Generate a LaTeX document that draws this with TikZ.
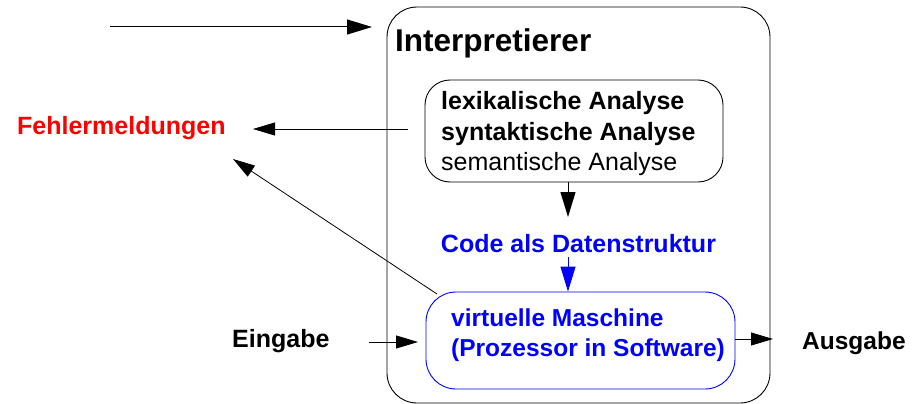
\documentclass[tikz,border=0pt]{standalone}
\usepackage{fontspec}
\setmainfont{Liberation Sans}
\usetikzlibrary{arrows.meta}
\definecolor{myblue}{RGB}{0,0,255}
\definecolor{myred}{RGB}{255,0,0}
\begin{document}
\begin{tikzpicture}[x=1pt,y=-1pt,
  box/.style={draw,rounded corners=#1,inner sep=0pt,line width=0.9pt},
  txt/.style={inner sep=0pt,anchor=base west,font=\fontsize{25}{30}\selectfont},
  arr/.style={-{Triangle[length=25pt,width=15pt]},line width=1pt},
  thin arr/.style={-{Triangle[length=22pt,width=13pt]},line width=0.8pt}]
\useasboundingbox (0,0) rectangle (922,404);
% outer box
\node[box=30pt,minimum width=383pt,minimum height=396pt] (outer) at (578.5,205) {};
\node[txt,font=\fontsize{31.5}{36}\selectfont\bfseries] (title) at (395,52) {Interpretierer};
% analysis box
\node[box=25pt,minimum width=298pt,minimum height=102pt] (ana) at (574,131) {};
\node[txt,font=\fontsize{25}{30}\selectfont\bfseries] (l1) at (441,110) {lexikalische Analyse};
\node[txt,font=\fontsize{25}{30}\selectfont\bfseries] (l2) at (441,140) {syntaktische Analyse};
\node[txt] (l3) at (441,170) {semantische Analyse};
% code
\node[inner sep=0pt,anchor=base,text=myblue,font=\fontsize{25}{30}\selectfont\bfseries] (code) at (578.5,252) {Code als Datenstruktur};
% VM box
\node[box=30pt,draw=myblue,minimum width=309pt,minimum height=97pt] (vm) at (580.5,340.5) {};
\node[txt,text=myblue,font=\fontsize{24.5}{30}\selectfont\bfseries] (v1) at (451,326) {virtuelle Maschine};
\node[txt,text=myblue,font=\fontsize{24.5}{30}\selectfont\bfseries] (v2) at (451,356) {(Prozessor in Software)};
% outside labels
\node[txt,text=myred,font=\fontsize{25}{30}\selectfont\bfseries] (fehler) at (17,135) {Fehlermeldungen};
\node[txt,font=\fontsize{25}{30}\selectfont\bfseries] (ein) at (232,347) {Eingabe};
\node[txt,font=\fontsize{24.5}{30}\selectfont\bfseries] (aus) at (802,349) {Ausgabe};
% coordinates
\coordinate (topstart) at (110,27);
\coordinate (topend) at (372,27);
\coordinate (fa) at (408,129);
\coordinate (fb) at (253,129);
\coordinate (da) at (437,294);
\coordinate (db) at (233,159);
\coordinate (ea) at (369,342);
\coordinate (eb) at (418,342);
\coordinate (ab) at (773,339);
% arrows
\draw[arr] (topstart) -- (topend);
\draw[thin arr] (fa) -- (fb);
\draw[thin arr] (da) -- (db);
\draw[arr] (ana.south -| 568,0) -- (568,217);
\draw[arr,draw=myblue,fill=myblue] (568,257) -- (vm.north -| 568,0);
\draw[thin arr] (ea) -- (eb);
\draw[thin arr] (vm.east |- ab) -- (ab);
\end{tikzpicture}
\end{document}
